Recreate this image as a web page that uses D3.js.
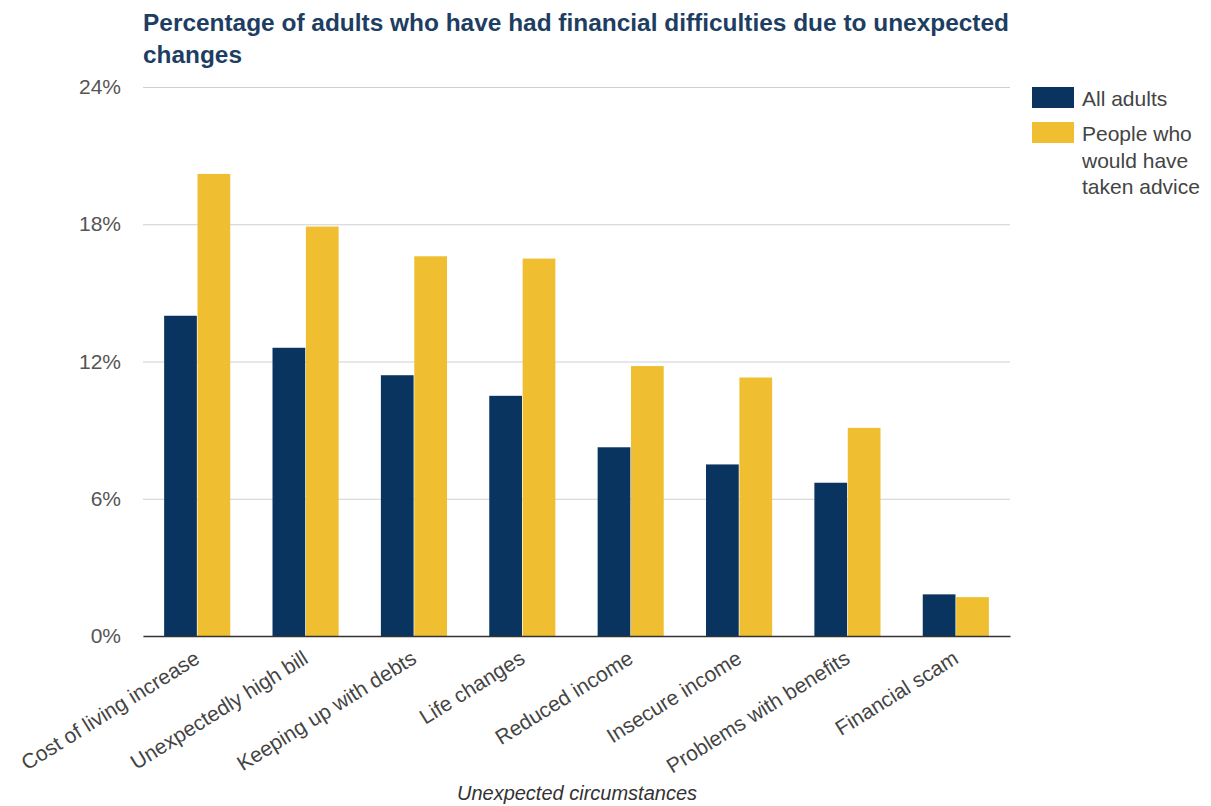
<!DOCTYPE html>
<html>
<head>
<meta charset="utf-8">
<script src="https://cdnjs.cloudflare.com/ajax/libs/d3/7.8.5/d3.min.js"></script>
<style>
  body { margin: 0; background: #fff; font-family: "Liberation Sans", Arial, sans-serif; }
</style>
</head>
<body>
<script>
var categories = ['Cost of living increase', 'Unexpectedly high bill', 'Keeping up with debts', 'Life changes',
  'Reduced income', 'Insecure income', 'Problems with benefits', 'Financial scam']
var seriesNames = ['All adults', 'People who would have taken advice']
var allAdults = [14.0, 12.6, 11.4, 10.5, 8.25, 7.5, 6.7, 1.82]
var tookAdvice = [20.2, 17.9, 16.6, 16.5, 11.8, 11.3, 9.1, 1.7]
var yTicks = [0, 6, 12, 18, 24]
var colors = ['#08345f', '#efbf31']

var margin = { top: 87, right: 201, bottom: 170, left: 143 }
var width = 1211 - margin.left - margin.right
var height = 806 - margin.top - margin.bottom
var fontSize = '21px'

var svg = d3.select('body').append('svg')
  .attr('width', 1211)
  .attr('height', 806)

var g = svg.append('g')
  .attr('transform', 'translate(' + margin.left + ',' + margin.top + ')')

var x0 = d3.scaleBand().domain(categories).range([0, width]).paddingInner(0.39).paddingOuter(0.195)
var x1 = d3.scaleBand().domain([0, 1]).range([0, x0.bandwidth()]).paddingInner(0.02)
var y = d3.scaleLinear().domain([0, 24]).range([height, 0])

// grid
g.append('g')
  .call(d3.axisLeft(y).tickValues(yTicks).tickSize(-width).tickFormat(function (d) { return d + '%' }))
  .call(function (a) {
    a.select('.domain').remove()
    a.selectAll('.tick line').attr('stroke', '#d0d0d0')
    a.selectAll('.tick text').attr('x', -22).attr('fill', '#555').style('font-size', fontSize)
      .style('font-family', '"Liberation Sans", Arial, sans-serif')
  })

var rows = categories.map(function (c, i) { return { cat: c, vals: [allAdults[i], tookAdvice[i]] } })

g.selectAll('.grp').data(rows).enter().append('g')
  .attr('transform', function (d) { return 'translate(' + x0(d.cat) + ',0)' })
  .selectAll('rect').data(function (d) { return d.vals }).enter().append('rect')
  .attr('x', function (d, i) { return x1(i) })
  .attr('width', x1.bandwidth())
  .attr('y', function (d) { return y(d) })
  .attr('height', function (d) { return height - y(d) })
  .attr('fill', function (d, i) { return colors[i] })

// baseline + category labels
g.append('g')
  .attr('transform', 'translate(0,' + height + ')')
  .call(d3.axisBottom(x0).tickSize(0).tickPadding(0))
  .call(function (a) {
    a.select('.domain').attr('stroke', '#333').attr('stroke-width', 1.5)
    a.selectAll('.tick text')
      .attr('text-anchor', 'end')
      .attr('fill', '#444')
      .style('font-size', fontSize)
      .style('font-family', '"Liberation Sans", Arial, sans-serif')
      .attr('dy', null)
      .attr('transform', 'translate(4,26) rotate(-32)')
  })

// title
svg.append('text')
  .attr('x', margin.left).attr('y', 31)
  .attr('fill', '#1d3e62').style('font-size', '23px').style('font-weight', 'bold')
  .attr('textLength', 866).attr('lengthAdjust', 'spacingAndGlyphs')
  .text('Percentage of adults who have had financial difficulties due to unexpected')
svg.append('text')
  .attr('x', margin.left).attr('y', 63)
  .attr('fill', '#1d3e62').style('font-size', '23px').style('font-weight', 'bold')
  .attr('textLength', 99).attr('lengthAdjust', 'spacingAndGlyphs')
  .text('changes')

// axis title
svg.append('text')
  .attr('x', 577).attr('y', 800)
  .attr('text-anchor', 'middle')
  .attr('fill', '#333').style('font-size', '20px').style('font-style', 'italic')
  .text('Unexpected circumstances')

// legend
var legendLines = [['All adults'], ['People who', 'would have', 'taken advice']]
var lg = svg.append('g').attr('transform', 'translate(1032,87)')
var offs = [0, 35]
legendLines.forEach(function (lines, i) {
  lg.append('rect').attr('x', 0).attr('y', offs[i]).attr('width', 42).attr('height', 21).attr('fill', colors[i])
  lines.forEach(function (t, j) {
    lg.append('text').attr('x', 50).attr('y', offs[i] + 19 + j * 26.5)
      .attr('fill', '#444').style('font-size', fontSize).text(t)
  })
})
</script>
</body>
</html>
